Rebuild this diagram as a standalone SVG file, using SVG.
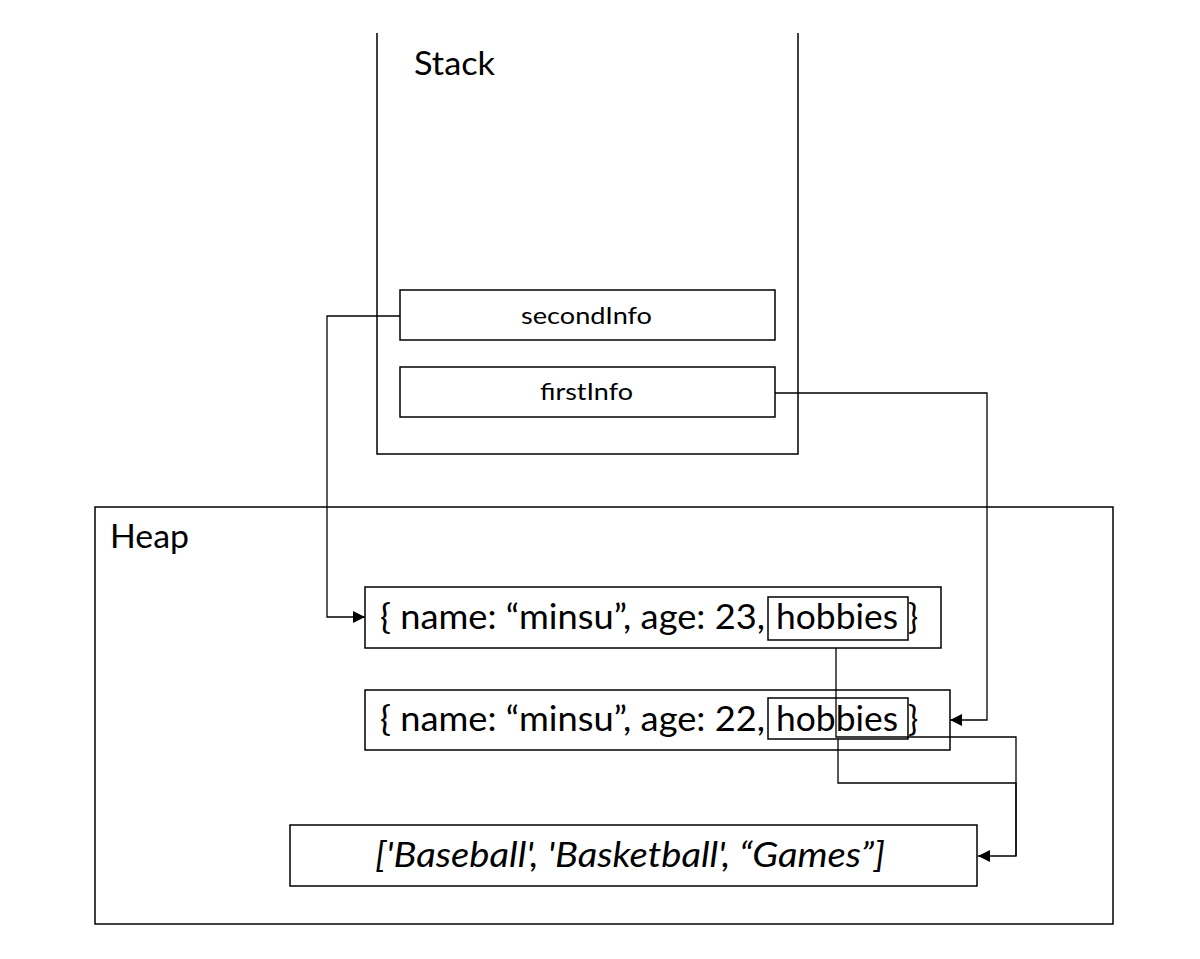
<svg xmlns="http://www.w3.org/2000/svg" width="1200" height="959" viewBox="0 0 1200 959">
<style>
.box{fill:none;stroke:#000;stroke-width:1.5}
.ln{fill:none;stroke:#000;stroke-width:1.3}
.t{font-family:Lato,"Liberation Sans",sans-serif;fill:#000}
.big{font-size:32px}
.mid{font-size:34px}
.sm{font-size:23px}
.it{font-style:italic}
</style>
<defs>
<marker id="ah" viewBox="0 0 10 10" refX="10" refY="5" markerWidth="12" markerHeight="12" markerUnits="userSpaceOnUse" orient="auto">
<path d="M0,0 L10,5 L0,10 z" fill="#000"/>
</marker>
</defs>
<rect width="1200" height="959" fill="#fff"/>
<g id="stack">
<path class="box" d="M377,33 V454 H798 V33"/>
<text class="t big" x="414" y="75" textLength="81" lengthAdjust="spacingAndGlyphs">Stack</text>
</g>
<g id="heap">
<rect class="box" x="95" y="507" width="1018" height="417"/>
<text class="t big" x="110" y="548" textLength="79" lengthAdjust="spacingAndGlyphs">Heap</text>
</g>
<g id="secondInfo">
<rect class="box" x="400" y="290" width="375" height="50"/>
<text class="t sm" x="521" y="324" textLength="131" lengthAdjust="spacingAndGlyphs">secondInfo</text>
</g>
<g id="firstInfo">
<rect class="box" x="400" y="367" width="375" height="50"/>
<text class="t sm" x="540" y="400" textLength="93" lengthAdjust="spacingAndGlyphs">firstInfo</text>
</g>
<g id="obj1">
<rect class="box" x="365" y="587" width="576" height="61"/>
<text class="t mid" x="380" y="629" textLength="385" lengthAdjust="spacingAndGlyphs">{ name: “minsu”, age: 23,</text>
<rect class="box" x="768" y="597" width="140" height="43"/>
<text class="t mid" x="776" y="629" textLength="122" lengthAdjust="spacingAndGlyphs">hobbies</text>
<text class="t mid" x="908" y="629">}</text>
</g>
<g id="obj2">
<rect class="box" x="365" y="690" width="585" height="60"/>
<text class="t mid" x="380" y="731" textLength="385" lengthAdjust="spacingAndGlyphs">{ name: “minsu”, age: 22,</text>
<rect class="box" x="768" y="698" width="140" height="41"/>
<text class="t mid" x="776" y="731" textLength="122" lengthAdjust="spacingAndGlyphs">hobbies</text>
<text class="t mid" x="908" y="731">}</text>
</g>
<g id="array">
<rect class="box" x="290" y="825" width="687" height="61"/>
<text class="t mid it" x="375" y="867" textLength="510" lengthAdjust="spacingAndGlyphs">['Baseball', 'Basketball', “Games”]</text>
</g>
<g id="connectors">
<path class="ln" d="M400,316 H327 V617 H365" marker-end="url(#ah)"/>
<path class="ln" d="M775,393 H987 V720 H950" marker-end="url(#ah)"/>
<path class="ln" d="M836,648 V737 H1016 V856 H978" marker-end="url(#ah)"/>
<path class="ln" d="M838,739 V783 H1016 V856"/>
</g>
</svg>
